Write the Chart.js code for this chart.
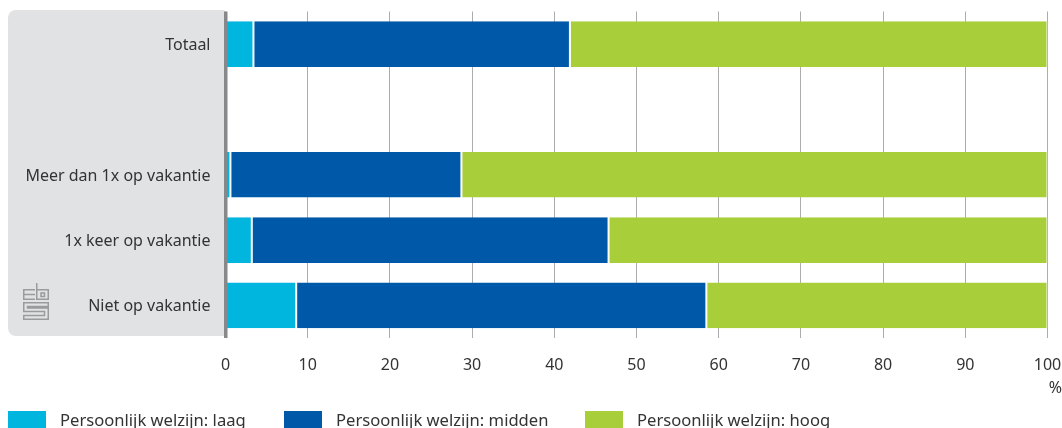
<!DOCTYPE html>
<html><head><meta charset="utf-8">
<script src="https://cdn.jsdelivr.net/npm/chart.js@4"></script>
<style>
html,body{margin:0;padding:0;background:#fff;overflow:hidden;width:1062px;height:428px}
#wrap{position:relative;width:1062px;height:428px;overflow:hidden;font-family:"Noto Sans",sans-serif;color:#333}
canvas{position:absolute;left:0;top:0}
#pct{position:absolute;right:0;top:377px;font-size:16px;line-height:20px}
.lg{position:absolute;top:411px;display:flex;white-space:nowrap;font-size:16.6px;line-height:20px}
.lg i{display:block;width:38px;height:17px;margin-right:14px}
.lg span{margin-top:-1px}
#logo{position:absolute;left:23px;top:282px}
</style></head><body>
<div id="wrap"><canvas id="c" width="1062" height="428"></canvas>
<div id="pct">%</div>
<svg id="logo" width="26" height="38" viewBox="0 0 26 38" fill="none" stroke="#9a9b9d" stroke-width="1.5">
<path d="M12 7.75H.75V17.25H12M12 12.5H.75"/>
<path d="M13.75 1V17.25H25.25V7.75H13.75M18 11h3.5v3.5H18z"/>
<path d="M25.25 20.75H.75V29.5H21.5V33.5H.75V37.25H25.25V26H4.5V24.5H25.25Z"/>
</svg>
</div>
<script>
const categories=["Totaal","","Meer dan 1x op vakantie","1x keer op vakantie","Niet op vakantie"];
const laag=[3.4,null,0.6,3.2,8.6];
const midden=[38.5,null,28.1,43.4,49.9];
const hoog=[58.1,null,71.3,53.4,41.5];
const seriesNames=["Persoonlijk welzijn: laag","Persoonlijk welzijn: midden","Persoonlijk welzijn: hoog"];
const xTicks=[0,10,20,30,40,50,60,70,80,90,100];
const colors=["#00B5DE","#0058A8","#A8CF3A"];
const legendX=[8,284,585];
const F='"Noto Sans",sans-serif';

const panel={id:'panel',beforeDraw(ch){
  const c=ch.ctx,a=ch.chartArea;
  c.save();c.fillStyle='#E1E2E4';c.beginPath();
  c.roundRect(8,10,a.left-8-1,326,[8,0,0,8]);c.fill();c.restore();
},afterDraw(ch){
  const c=ch.ctx,a=ch.chartArea;
  c.save();c.fillStyle='#87888A';c.fillRect(224,a.top,3.5,a.bottom-a.top);c.restore();
}};

new Chart(document.getElementById('c'),{
  type:'bar',
  plugins:[panel],
  data:{labels:categories,datasets:[laag,midden,hoog].map((d,i)=>({
    label:seriesNames[i],data:d,backgroundColor:colors[i],
    borderColor:'#ffffff',borderWidth:{left:1,right:1,top:0,bottom:0},borderSkipped:false,
    barPercentage:0.7,categoryPercentage:1}))},
  options:{
    indexAxis:'y',responsive:false,animation:false,
    layout:{padding:{left:0,right:14.5,top:11.5,bottom:0}},
    plugins:{legend:{display:false},tooltip:{enabled:false}},
    scales:{
      x:{stacked:true,min:0,max:100,
        afterBuildTicks(s){s.ticks=xTicks.map(v=>({value:v}));},
        afterFit(s){s.height=90;s.paddingLeft=0;s.paddingRight=0;},
        grid:{color:'#ABACAE',lineWidth:1,drawTicks:false,drawOnChartArea:true},
        border:{display:false},
        ticks:{padding:18,maxRotation:0,autoSkip:false,color:'#333',font:{family:F,size:16}}},
      y:{stacked:true,
        afterFit(s){s.width=225.5;s.paddingTop=0;s.paddingBottom=0;},
        grid:{display:false,drawTicks:false},border:{display:false},
        ticks:{padding:15,labelOffset:1.5,autoSkip:false,color:'#333',font:{family:F,size:16}}}
    }
  }
});
const w=document.getElementById('wrap');
seriesNames.forEach((n,i)=>{
  const d=document.createElement('div');d.className='lg';d.style.left=legendX[i]+'px';
  const b=document.createElement('i');b.style.background=colors[i];
  const t=document.createElement('span');t.textContent=n;
  d.append(b,t);w.appendChild(d);
});
</script></body></html>
